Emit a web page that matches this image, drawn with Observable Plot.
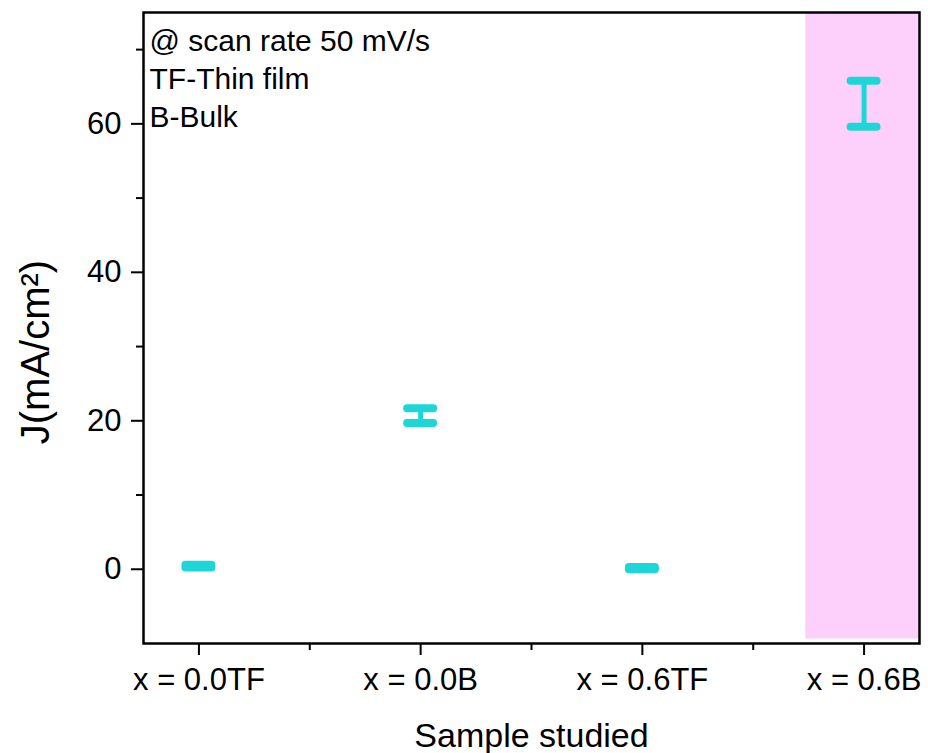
<!DOCTYPE html>
<html><head><meta charset="utf-8">
<script src="https://cdn.jsdelivr.net/npm/d3@7"></script>
<script src="https://cdn.jsdelivr.net/npm/@observablehq/plot@0.6"></script>
<style>body{margin:0;background:#fff;}</style>
</head><body><div id="chart"></div>
<script>
// Data
const samples = ["x = 0.0TF", "x = 0.0B", "x = 0.6TF", "x = 0.6B"];
const positions = [1, 2, 3, 4];
const jLow = [0.25, 19.7, 0.0, 59.6];
const jHigh = [0.6, 21.7, 0.3, 65.8];
const yTicks = [0, 20, 40, 60];
const yMinor = [10, 30, 50, 70];
const xMinor = [1.5, 2.5, 3.5];
const notes = ["@ scan rate 50 mV/s", "TF-Thin film", "B-Bulk"];
const highlightX = [3.737, 4.25];
const highlightY = [-9.4, 75];
const xLabel = "Sample studied";
const yLabel = "J(mA/cm²)";

const table = samples.map((s, i) => ({sample: s, x: positions[i], lo: jLow[i], hi: jHigh[i]}));
const caps = table.flatMap(d => [{x: d.x, y: d.lo}, {x: d.x, y: d.hi}]);
const band = [{x1: highlightX[0], x2: highlightX[1], y1: highlightY[0], y2: highlightY[1]}];

const cyan = "#1dd6d8";
const font = "'Liberation Sans', Arial, sans-serif";

const chart = Plot.plot({
  width: 928,
  height: 753,
  marginLeft: 143,
  marginTop: 12,
  marginRight: 9,
  marginBottom: 110,
  x: {domain: [0.75, 4.25]},
  y: {domain: [-10, 75]},
  style: {fontFamily: font, fontSize: "31px", background: "white", color: "black"},
  marks: [
    Plot.rect(band, {x1: "x1", x2: "x2", y1: "y1", y2: "y2", fill: "#fcd0fb"}),
    Plot.ruleX(table, {x: "x", y1: "lo", y2: "hi", stroke: cyan, strokeWidth: 5, strokeLinecap: "round"}),
    Plot.ruleY(caps, {y: "y", x1: "x", x2: "x", insetLeft: -13, insetRight: -13, stroke: cyan, strokeWidth: 8, strokeLinecap: "round"}),
    Plot.axisX(positions, {tickSize: 12, tickPadding: 12, strokeWidth: 2, fontSize: 31,
      tickFormat: d => samples[positions.indexOf(d)]}),
    Plot.axisX(xMinor, {tickSize: 7, strokeWidth: 2, text: null}),
    Plot.axisY(yTicks, {tickSize: 12, tickPadding: 10, strokeWidth: 2, fontSize: 31}),
    Plot.axisY(yMinor, {tickSize: 7, strokeWidth: 2, text: null}),
    Plot.frame({stroke: "black", strokeWidth: 2.5}),
    Plot.text([notes.join("\n")], {frameAnchor: "top-left", textAnchor: "start", lineAnchor: "top",
      dx: 6, dy: 11, fontSize: 30, lineHeight: 1.27, fill: "black"}),
    Plot.text([xLabel], {frameAnchor: "bottom", textAnchor: "middle", lineAnchor: "bottom", dy: 103, fontSize: 34, fill: "black"}),
    Plot.text([yLabel], {frameAnchor: "left", textAnchor: "middle", lineAnchor: "middle", rotate: -90, dx: -107, dy: 24, fontSize: 40, fill: "black"})
  ]
});
document.getElementById("chart").append(chart);
</script>
</body></html>
